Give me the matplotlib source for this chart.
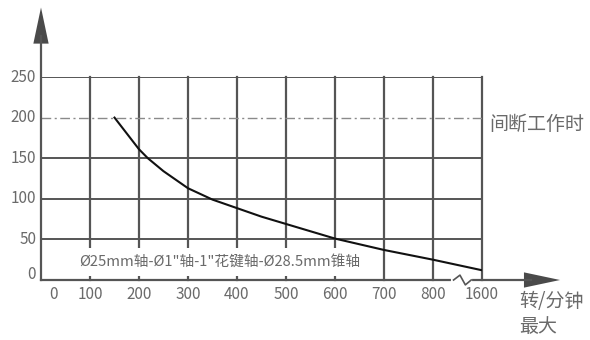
import matplotlib
matplotlib.use('Agg')
import matplotlib.pyplot as plt

plt.rcParams['font.family'] = ['Noto Sans CJK SC', 'DejaVu Sans']

# tick labels (the last slot is 1600 after an axis break)
x_labels = ['0', '100', '200', '300', '400', '500', '600', '700', '800', '1600']
y_ticks = [0, 50, 100, 150, 200, 250]

# max speed curve
rpm = [150, 175, 200, 218, 250, 300, 350, 400, 450, 500, 550, 600, 650, 700, 750, 800, 1600]
load = [200, 180.5, 161, 150, 134, 113, 99, 88.5, 78, 69, 60, 51, 44, 37, 31, 25, 12]

intermittent = 200
note = 'Ø25mm轴-Ø1"轴-1"花键轴-Ø28.5mm锥轴'


def pos(r):
    # axis slot for a speed value; everything past 800 sits in the last slot
    return r / 100.0 if r <= 800 else 9


grid_c = '#555555'
text_c = '#6a6a6a'

fig = plt.figure(figsize=(5.9, 3.4), dpi=100)
ax = fig.add_axes([41 / 590, 1 - 280 / 340, 441 / 590, 203 / 340])
ax.set_xlim(0, 9)
ax.set_ylim(0, 250)
ax.axis('off')

# grid
for v in y_ticks[1:]:
    if v == intermittent:
        continue
    ax.plot([0, 9], [v, v], color=grid_c, lw=1.4, zorder=1)
for i in range(1, len(x_labels)):
    ax.plot([i, i], [0, 250], color=grid_c, lw=1.6, clip_on=False, zorder=1)

# intermittent duty line
ax.plot([0, 9], [intermittent, intermittent], color='#8a8a8a', lw=1.0,
        dashes=[7, 2.5, 1.5, 2.5], zorder=2)

# curve
ax.plot([pos(r) for r in rpm], load, color='#111111', lw=1.5, zorder=3)

# axes with arrows
ax.plot([0, 0], [0, 300], color=grid_c, lw=1.6, clip_on=False, zorder=4)
ax.annotate('', xy=(0, 339), xytext=(0, 298), xycoords='data',
            arrowprops=dict(arrowstyle='-|>,head_length=2.6,head_width=0.55',
                            color='#4a4a4a', lw=0), annotation_clip=False)
ax.plot([0, 10.0], [0, 0], color=grid_c, lw=1.6, clip_on=False, zorder=4)
ax.annotate('', xy=(10.65, 0), xytext=(9.95, 0), xycoords='data',
            arrowprops=dict(arrowstyle='-|>,head_length=2.6,head_width=0.55',
                            color='#4a4a4a', lw=0), annotation_clip=False)

# axis break
ax.plot([8.4, 8.75], [0, 0], color='white', lw=3, zorder=5, clip_on=False)
ax.plot([8.42, 8.55, 8.66, 8.78], [0, 6, -6, 0], color=grid_c, lw=1.2,
        zorder=6, clip_on=False)

# tick labels
for i, lab in enumerate(x_labels):
    x = 0.25 if i == 0 else i
    ax.text(x, -18, lab, ha='center', va='center', fontsize=11,
            color=text_c, clip_on=False)
for v in y_ticks:
    ax.text(-0.1, v + 7 if v == 0 else v, str(v), ha='right', va='center',
            fontsize=11, color=text_c, clip_on=False)

ax.text(3.65, 22, note, ha='center', va='center', fontsize=10.6, color=text_c,
        zorder=7, bbox=dict(facecolor='white', edgecolor='none', pad=5))
ax.text(9.15, 192, '间断工作时', ha='left', va='center', fontsize=13.7,
        color=text_c, clip_on=False)
ax.text(9.75, -13, '转/分钟\n最大', ha='left', va='top', fontsize=13.7,
        color=text_c, linespacing=1.25, clip_on=False)

fig.savefig('out.png', dpi=100)
